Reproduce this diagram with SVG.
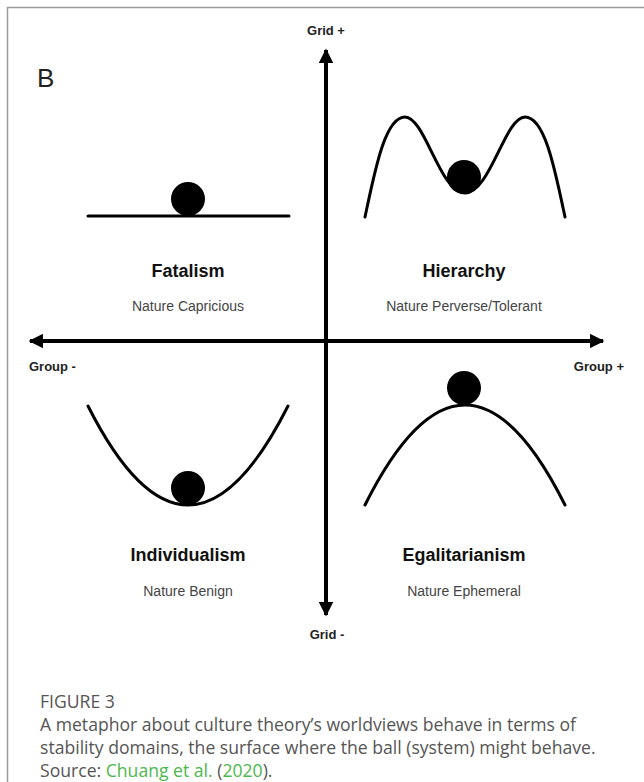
<svg xmlns="http://www.w3.org/2000/svg" width="644" height="782" viewBox="0 0 644 782">
<defs>
<style>
.ax{stroke:#000;stroke-width:4;fill:none}
.cv{stroke:#000;stroke-width:3;fill:none;stroke-linecap:round}
.ball{fill:#000}
.al{font-family:"Liberation Sans",Arial,sans-serif;font-weight:bold;font-size:13px;fill:#222}
.tt{font-family:"Liberation Sans",Arial,sans-serif;font-weight:bold;font-size:18px;fill:#111;text-anchor:middle}
.st{font-family:"Liberation Sans",Arial,sans-serif;font-size:14px;fill:#444;text-anchor:middle}
.cap{font-family:"Open Sans","Noto Sans",sans-serif;font-size:17.6px;fill:#555}
.lnk{fill:#4cb84c}
</style>
<marker id="ah" viewBox="0 0 10 10" refX="9" refY="5" markerWidth="4" markerHeight="3.6" orient="auto" markerUnits="strokeWidth">
<path d="M0,0 L10,5 L0,10 z" fill="#000"/>
</marker>
</defs>
<rect width="644" height="782" fill="#fff"/>
<path d="M7.5,790 V7.5 H650" fill="none" stroke="#9a9a9a" stroke-width="1.5"/>
<text x="37" y="87" font-family="Liberation Sans,Arial,sans-serif" font-size="26" fill="#222">B</text>
<g id="connectors">
<line class="ax" x1="326" y1="330" x2="326" y2="50" marker-end="url(#ah)"/>
<line class="ax" x1="326" y1="330" x2="326" y2="615" marker-end="url(#ah)"/>
<line class="ax" x1="326" y1="341" x2="30" y2="341" marker-end="url(#ah)"/>
<line class="ax" x1="326" y1="341" x2="603" y2="341" marker-end="url(#ah)"/>
</g>
<g id="axis-labels">
<text class="al" x="326" y="35" text-anchor="middle">Grid +</text>
<text class="al" x="327" y="639" text-anchor="middle">Grid -</text>
<text class="al" x="29" y="371">Group -</text>
<text class="al" x="624" y="371" text-anchor="end">Group +</text>
</g>
<g id="fatalism">
<line class="cv" x1="88" y1="216" x2="289" y2="216"/>
<circle class="ball" cx="188" cy="199" r="17"/>
<text class="tt" x="188" y="277">Fatalism</text>
<text class="st" x="188" y="311">Nature Capricious</text>
</g>
<g id="hierarchy">
<path class="cv" d="M365,217 C375,170 385,117 405,117 C425,117 440,193 465,193 C490,193 505,117 525,117 C545,117 555,170 565,217"/>
<circle class="ball" cx="464" cy="177" r="17"/>
<text class="tt" x="464" y="277">Hierarchy</text>
<text class="st" x="464" y="311">Nature Perverse/Tolerant</text>
</g>
<g id="individualism">
<path class="cv" d="M88,406 Q188,604 288,406"/>
<circle class="ball" cx="188" cy="488" r="17"/>
<text class="tt" x="188" y="561">Individualism</text>
<text class="st" x="188" y="596">Nature Benign</text>
</g>
<g id="egalitarianism">
<path class="cv" d="M365,505 Q465,305 565,505"/>
<circle class="ball" cx="464" cy="388" r="17"/>
<text class="tt" x="464" y="561">Egalitarianism</text>
<text class="st" x="464" y="596">Nature Ephemeral</text>
</g>
<g id="caption">
<text class="cap" x="40" y="708" font-size="14">FIGURE 3</text>
<text class="cap" x="40" y="731">A metaphor about culture theory’s worldviews behave in terms of</text>
<text class="cap" x="40" y="754">stability domains, the surface where the ball (system) might behave.</text>
<text class="cap" x="40" y="777">Source: <tspan class="lnk">Chuang et al.</tspan> (<tspan class="lnk">2020</tspan>).</text>
</g>
</svg>
